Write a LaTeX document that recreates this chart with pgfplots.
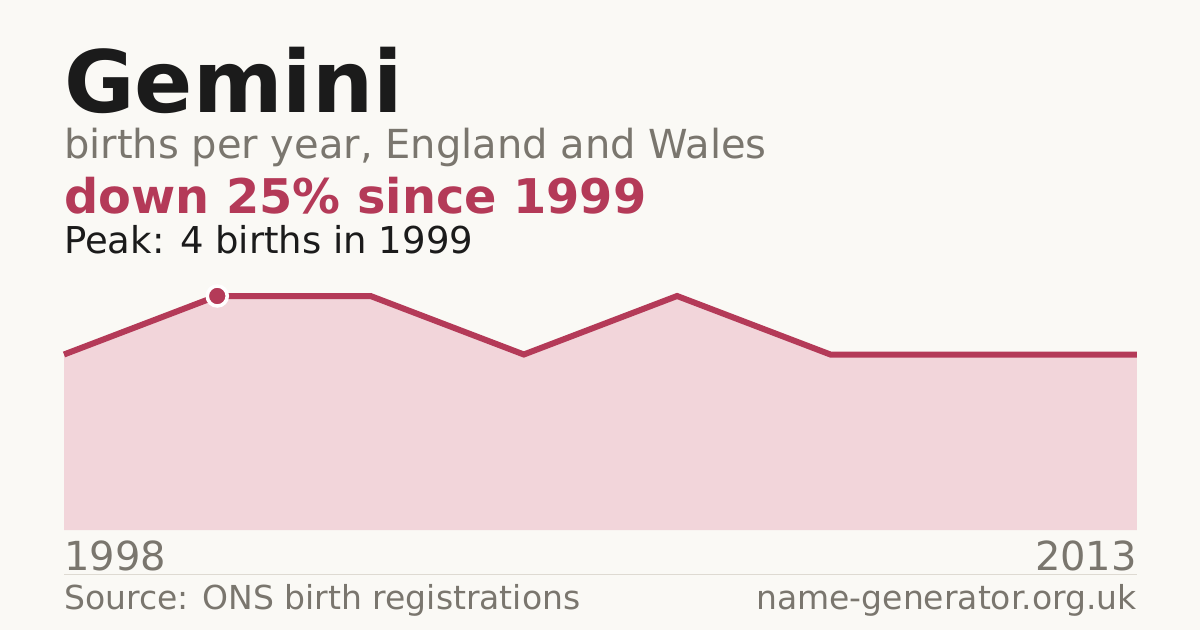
\documentclass[border=0pt]{standalone}
\usepackage{fontspec}
\setmainfont{DejaVu Sans}
\usepackage{pgfplots}
\pgfplotsset{compat=1.18}
\definecolor{bg}{HTML}{FAF9F5}
\definecolor{accent}{HTML}{B43A58}
\definecolor{areafill}{HTML}{F2D5DA}
\definecolor{darktext}{HTML}{1B1B1B}
\definecolor{graytext}{HTML}{7A766E}
\definecolor{rule}{HTML}{DEDAD2}
\begin{document}
\begin{tikzpicture}[x=1pt,y=1pt]
\fill[bg] (0,0) rectangle (1200,630);
\node[anchor=base west, inner sep=0, text=darktext, font=\fontsize{86}{86}\selectfont\bfseries] at (64,517) {Gemini};
\node[anchor=base west, inner sep=0, text=graytext, font=\fontsize{40}{40}\selectfont] at (64,471) {births per year, England and Wales};
\node[anchor=base west, inner sep=0, text=accent, font=\fontsize{47.8}{50}\selectfont\bfseries] at (64,416) {down 25\% since 1999};
\node[anchor=base west, inner sep=0, text=darktext, font=\fontsize{37}{38}\selectfont] at (64,376) {Peak: 4 births in 1999};
\begin{axis}[
  at={(64pt,100pt)}, anchor=south west,
  scale only axis, width=1073pt, height=234pt,
  xmin=0, xmax=7, ymin=0, ymax=4,
  axis lines=none, ticks=none, clip=false,
]
\addplot[fill=areafill, draw=none] coordinates {(0,3) (1,4) (2,4) (3,3) (4,4) (5,3) (6,3) (7,3)} \closedcycle;
\addplot[draw=accent, line width=6pt, miter limit=10] coordinates {(0,3) (1,4) (2,4) (3,3) (4,4) (5,3) (6,3) (7,3)};
\addplot[only marks, mark=*, mark size=10pt, mark options={fill=accent, draw=white, line width=3.5pt}] coordinates {(1,4)};
\end{axis}
\draw[rule, line width=1pt] (64,56) -- (1137,56);
\node[anchor=base west, inner sep=0, text=graytext, font=\fontsize{40}{40}\selectfont] at (64,60) {1998};
\node[anchor=base east, inner sep=0, text=graytext, font=\fontsize{40}{40}\selectfont] at (1137,60) {2013};
\node[anchor=base west, inner sep=0, text=graytext, font=\fontsize{33}{34}\selectfont] at (64,21) {Source: ONS birth registrations};
\node[anchor=base east, inner sep=0, text=graytext, font=\fontsize{33}{34}\selectfont] at (1137,21) {name-generator.org.uk};
\end{tikzpicture}
\end{document}
